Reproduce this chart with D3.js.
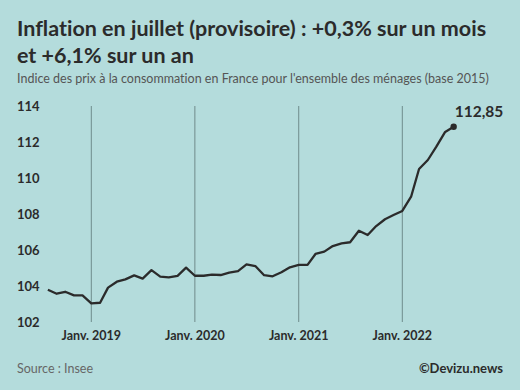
<!DOCTYPE html>
<html><head><meta charset="utf-8">
<script src="https://cdn.jsdelivr.net/npm/d3@7"></script>
<style>html,body{margin:0;padding:0;background:#b4dcdc;}svg{display:block;}text{font-variant-ligatures:none;font-feature-settings:"liga" 0;}</style>
</head><body>
<svg id="c" width="520" height="390"></svg>
<script>
const months = ["2018-08","2018-09","2018-10","2018-11","2018-12",
"2019-01","2019-02","2019-03","2019-04","2019-05","2019-06","2019-07","2019-08","2019-09","2019-10","2019-11","2019-12",
"2020-01","2020-02","2020-03","2020-04","2020-05","2020-06","2020-07","2020-08","2020-09","2020-10","2020-11","2020-12",
"2021-01","2021-02","2021-03","2021-04","2021-05","2021-06","2021-07","2021-08","2021-09","2021-10","2021-11","2021-12",
"2022-01","2022-02","2022-03","2022-04","2022-05","2022-06","2022-07"];
const values = [103.79,103.57,103.68,103.48,103.48,
103.04,103.07,103.91,104.24,104.37,104.59,104.41,104.88,104.52,104.48,104.56,105.02,
104.57,104.57,104.63,104.61,104.74,104.83,105.20,105.11,104.60,104.54,104.76,105.04,
105.17,105.17,105.78,105.91,106.22,106.37,106.43,107.07,106.83,107.33,107.71,107.94,
108.17,108.96,110.50,111.00,111.74,112.56,112.85];
const yTicks = [102,104,106,108,110,112,114];
const xTicks = ["2019-01","2020-01","2021-01","2022-01"];
const xTickLabels = ["Janv. 2019","Janv. 2020","Janv. 2021","Janv. 2022"];
const lastLabel = "112,85";
const title1 = "Inflation en juillet (provisoire) : +0,3% sur un mois";
const title2 = "et +6,1% sur un an";
const subtitle = "Indice des prix à la consommation en France pour l'ensemble des ménages (base 2015)";
const source = "Source : Insee";
const credit = "©Devizu.news";

const parse = d3.timeParse("%Y-%m");
const data = months.map((m,i)=>({d:parse(m), v:values[i]}));
const svg = d3.select("#c");
svg.append("rect").attr("width",520).attr("height",390).attr("fill","#b4dcdc");
const font = "Lato, 'Open Sans', sans-serif";

const x = d3.scaleTime().domain([parse("2019-01"), parse("2022-01")]).range([91.3, 402.3]);
const y = d3.scaleLinear().domain([102,114]).range([322,106]);

// title
const t = svg.append("g").attr("font-family", font).attr("fill","#2b2b2b");
t.append("text").attr("x",17).attr("y",36).attr("font-size",21.5).attr("font-weight",700).text(title1);
t.append("text").attr("x",17).attr("y",63).attr("font-size",21.5).attr("font-weight",700).text(title2);
t.append("text").attr("x",17).attr("y",83).attr("font-size",12.5).attr("fill","#555").text(subtitle);

// vertical grid lines
svg.append("g").selectAll("line").data(xTicks).join("line")
  .attr("x1",d=>x(parse(d))).attr("x2",d=>x(parse(d)))
  .attr("y1",y(114)).attr("y2",y(102))
  .attr("stroke","#6f8c8c").attr("stroke-width",1);

// y axis labels
svg.append("g").selectAll("text").data(yTicks).join("text")
  .attr("x",17).attr("y",d=>y(d)+4.5)
  .attr("font-family",font).attr("font-weight",700).attr("font-size",13).attr("fill","#2b2b2b")
  .text(d=>d);

// x axis labels
svg.append("g").selectAll("text").data(xTicks).join("text")
  .attr("x",d=>x(parse(d))).attr("y",340).attr("text-anchor","middle")
  .attr("font-family",font).attr("font-weight",700).attr("font-size",12.5).attr("fill","#2b2b2b")
  .text((d,i)=>xTickLabels[i]);

// line
svg.append("path").datum(data)
  .attr("d", d3.line().x(d=>x(d.d)).y(d=>y(d.v)))
  .attr("fill","none").attr("stroke","#2b2b2b").attr("stroke-width",2.3).attr("stroke-linejoin","round");

const last = data[data.length-1];
svg.append("circle").attr("cx",x(last.d)).attr("cy",y(last.v)).attr("r",3.2).attr("fill","#2b2b2b");
svg.append("text").attr("x",x(last.d)+1).attr("y",y(last.v)-10)
  .attr("font-family",font).attr("font-weight",700).attr("font-size",15.5).attr("fill","#2b2b2b")
  .text(lastLabel);

// footer
svg.append("text").attr("x",17).attr("y",373).attr("font-family",font).attr("font-size",12.5).attr("fill","#666").text(source);
svg.append("text").attr("x",503).attr("y",373).attr("text-anchor","end").attr("font-family",font).attr("font-weight",700).attr("font-size",13).attr("fill","#2b2b2b").text(credit);
</script>
</body></html>
